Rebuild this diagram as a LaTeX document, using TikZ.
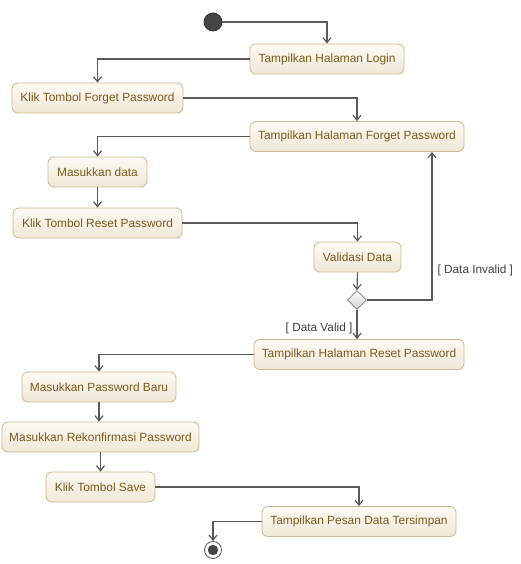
\documentclass[tikz,border=0pt]{standalone}
\usepackage{fontspec}
\setmainfont{Liberation Sans}
\usetikzlibrary{arrows.meta,shapes.geometric,calc}
\definecolor{nodeborder}{HTML}{C9B994}
\definecolor{nodetext}{HTML}{7A5B1E}
\definecolor{nodetop}{HTML}{FCFAF4}
\definecolor{nodebot}{HTML}{EFE8D6}
\definecolor{linegray}{HTML}{5A5A5A}
\definecolor{startfill}{HTML}{454545}
\begin{document}
\begin{tikzpicture}[x=1pt,y=-1pt,
  act/.style={draw=nodeborder, rounded corners=6pt, top color=nodetop, bottom color=nodebot,
    text=nodetext, font=\fontsize{11.9}{13}\selectfont, minimum height=30pt, inner sep=0pt, line width=0.8pt},
  flow/.style={draw=linegray, line width=1.2pt, -{Straight Barb[length=5pt,width=8pt]}},
  guard/.style={font=\fontsize{11.8}{13}\selectfont, text=black!75, inner sep=1pt},
  startn/.style={circle, fill=startfill, draw=black!80, line width=0.8pt, minimum size=18pt, inner sep=0pt},
  endn/.style={circle, fill=white, draw=linegray, line width=0.8pt, minimum size=17pt, inner sep=0pt,
    path picture={\fill[startfill] (path picture bounding box.center) circle (5.2pt);}},
  dec/.style={diamond, aspect=1, minimum size=19pt, inner sep=0pt, draw=black!50, line width=0.8pt,
    top color=white, bottom color=black!18}]
\useasboundingbox (0,0) rectangle (520,564);

\node[startn] (s) at (213,22) {};
\node[act, minimum width=154pt] (login) at (327,59) {Tampilkan Halaman Login};
\node[act, minimum width=171pt] (kfp) at (97.5,98) {Klik Tombol Forget Password};
\node[act, minimum width=214pt] (tfp) at (357,136.5) {Tampilkan Halaman Forget Password};
\node[act, minimum width=99pt] (md) at (97.5,172) {Masukkan data};
\node[act, minimum width=169pt] (krp) at (97.5,223) {Klik Tombol Reset Password};
\node[act, minimum width=87pt] (vd) at (357.5,257) {Validasi Data};
\node[dec] (dc) at (357,300) {};
\node[act, minimum width=210pt] (trp) at (359,354.5) {Tampilkan Halaman Reset Password};
\node[act, minimum width=154pt] (mpb) at (99,387) {Masukkan Password Baru};
\node[act, minimum width=197pt] (mrp) at (100.5,437) {Masukkan Rekonfirmasi Password};
\node[act, minimum width=109pt] (kts) at (100.5,487) {Klik Tombol Save};
\node[act, minimum width=194pt] (tps) at (359,521.5) {Tampilkan Pesan Data Tersimpan};
\node[endn] (e) at (213,550) {};

\draw[flow] (s.east) -| (login.north);
\draw[flow] (login.west) -| (kfp.north);
\draw[flow] (kfp.east) -| (tfp.north);
\draw[flow] (tfp.west) -| (md.north);
\draw[flow] (md) -- (krp);
\draw[flow] (krp.east) -| (vd.north);
\draw[flow] (vd.south) -- (dc.north);
\draw[flow] (dc.east) -| node[guard, right=4pt, pos=0.6] {[ Data Invalid ]} ([xshift=75pt]tfp.south);
\draw[flow] (dc.south) -- node[guard, left=3pt, pos=0.62] {[ Data Valid ]} (dc.south |- trp.north);
\draw[flow] (trp.west) -| (mpb.north);
\draw[flow] (mpb.south) -- (mpb.south |- mrp.north);
\draw[flow] (mrp) -- (kts);
\draw[flow] (kts.east) -| (tps.north);
\draw[flow] (tps.west) -| (e.north);
\end{tikzpicture}
\end{document}
